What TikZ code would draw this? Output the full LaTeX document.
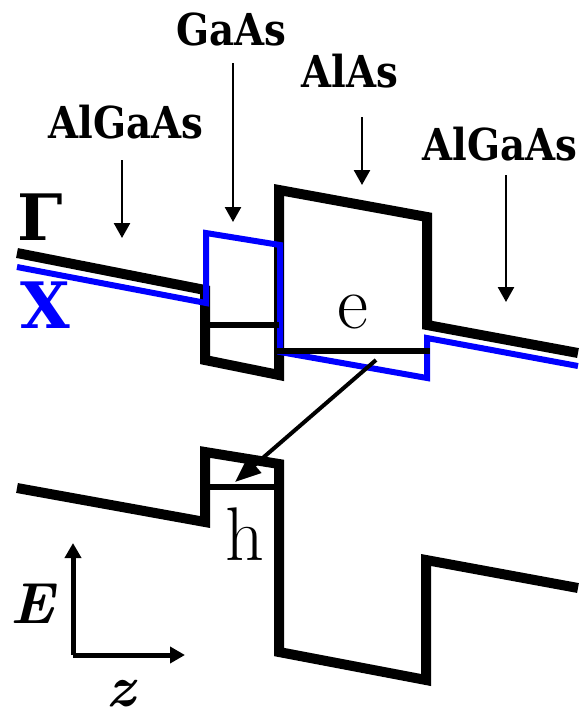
\documentclass[tikz,border=0pt]{standalone}
\usepackage{fontspec}
\usepackage{graphicx}
\newfontfamily\dvs{DejaVu Serif}
\usetikzlibrary{arrows.meta}
\definecolor{xblue}{RGB}{0,0,255}
\newcommand{\sqz}[1]{\scalebox{0.88}[1]{#1}}
\begin{document}
\begin{tikzpicture}[x=1pt,y=-1pt,
  band/.style={line width=10pt, miter limit=10},
  xband/.style={draw=xblue, line width=6pt, miter limit=10},
  level/.style={line width=6pt},
  lab/.style={font=\fontsize{44}{44}\selectfont\dvs\bfseries, anchor=base, inner sep=0pt},
  big/.style={font=\fontsize{76}{76}\selectfont, anchor=base, inner sep=0pt},
  sym/.style={font=\fontsize{64}{64}\selectfont\dvs\bfseries, anchor=base, inner sep=0pt},
  axlab/.style={font=\fontsize{58}{58}\selectfont\bfseries\itshape, anchor=base, inner sep=0pt},
  ptr/.style={line width=2.5pt, -{Triangle[length=15pt,width=16pt]}},
  axis/.style={line width=5pt, -{Triangle[length=15pt,width=16pt]}},
  trans/.style={line width=4pt, -{Triangle[length=26pt,width=20pt]}}
]
\useasboundingbox (0,0) rectangle (586,716);

% conduction band (Gamma)
\draw[band] (17,253) -- (205,290) -- (205,360) -- (279,375) -- (279,190)
  -- (427,217) -- (427,325) -- (578,353);
% X band
\draw[xband] (17,267) -- (206,303) -- (206,233) -- (280,245) -- (280,352)
  -- (427,378) -- (427,338) -- (578,366);
% electron levels
\draw[level] (205,325) -- (279,325);
\draw[level] (276,351) -- (430,351);
% valence band
\draw[band] (17,488) -- (205,522) -- (205,452) -- (279,464) -- (279,652)
  -- (426,680) -- (426,560) -- (578,588);
% hole level
\draw[level] (207,487) -- (280,487);

% labels
\node[lab] (lAlGaAs1) at (126,138) {\sqz{AlGaAs}};
\node[lab] (lGaAs) at (231,45) {\sqz{GaAs}};
\node[lab] (lAlAs) at (350,87) {\sqz{AlAs}};
\node[lab] (lAlGaAs2) at (500,160) {\sqz{AlGaAs}};

\coordinate (a1s) at (122,160); \coordinate (a1e) at (122,238);
\coordinate (a2s) at (233,63);  \coordinate (a2e) at (233,222);
\coordinate (a3s) at (362,117); \coordinate (a3e) at (362,185);
\coordinate (a4s) at (506,175); \coordinate (a4e) at (506,302);
\draw[ptr] (a1s) -- (a1e);
\draw[ptr] (a2s) -- (a2e);
\draw[ptr] (a3s) -- (a3e);
\draw[ptr] (a4s) -- (a4e);

\node[sym] (gam) at (40,240) {Γ};
\node[sym, text=xblue] (xlab) at (45,328) {X};
\node[big] (e) at (353,328) {e};
\node[big] (h) at (245,560) {h};

% transition arrow
\coordinate (ts) at (376,360);
\coordinate (te) at (235,482);
\draw[trans] (ts) -- (te);

% axes
\coordinate (o) at (73,655);
\coordinate (ey) at (73,543);
\coordinate (zx) at (185,655);
\draw[axis] (o) -- (ey);
\draw[axis] (o) -- (zx);
\node[axlab] (E) at (32,623) {E};
\node[axlab] (z) at (121,706) {z};
\end{tikzpicture}
\end{document}
